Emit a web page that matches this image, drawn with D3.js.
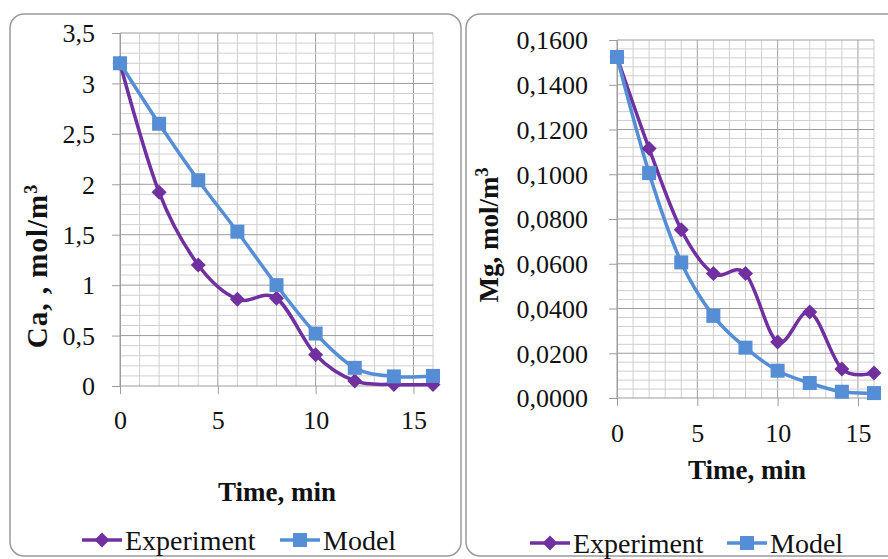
<!DOCTYPE html>
<html><head><meta charset="utf-8">
<script src="https://cdn.jsdelivr.net/npm/d3@7"></script>
<style>
body{margin:0;background:#fff;}
svg{display:block;}
</style></head>
<body><svg id="c" width="888" height="559"></svg>
<script>
const time = [0, 2, 4, 6, 8, 10, 12, 14, 16];
const caExperiment = [3.2, 1.92, 1.2, 0.86, 0.87, 0.31, 0.05, 0.015, 0.015];
const caModel = [3.2, 2.6, 2.04, 1.53, 1.0, 0.52, 0.18, 0.095, 0.1];
const mgExperiment = [0.1524, 0.1115, 0.0752, 0.0556, 0.0556, 0.025, 0.0384, 0.013, 0.0112];
const mgModel = [0.1524, 0.1005, 0.0606, 0.0367, 0.0225, 0.0122, 0.0067, 0.0028, 0.0022];
const xTicks = [0, 5, 10, 15];
const caTicks = [0, 0.5, 1, 1.5, 2, 2.5, 3, 3.5];
const mgTicks = [0, 0.02, 0.04, 0.06, 0.08, 0.1, 0.12, 0.14, 0.16];
const seriesNames = ["Experiment", "Model"];
const colors = {Experiment: "#7030A0", Model: "#558ED5"};

const FONT = '"Liberation Serif", "Times New Roman", serif';
const svg = d3.select("#c");
const fmtComma = d => String(d).replace(".", ",");

// panels
svg.append("rect").attr("x", 10).attr("y", 14).attr("width", 451).attr("height", 542)
  .attr("rx", 14).attr("fill", "#fff").attr("stroke", "#9a9a9a").attr("stroke-width", 1.5);
svg.append("rect").attr("x", 466).attr("y", 14).attr("width", 440).attr("height", 542)
  .attr("rx", 14).attr("fill", "#fff").attr("stroke", "#9a9a9a").attr("stroke-width", 1.5);

function drawChart(cfg) {
  const g = svg.append("g");
  const x = d3.scaleLinear().domain([0, 16]).range([cfg.x0, cfg.x1]);
  const y = d3.scaleLinear().domain([0, cfg.ymax]).range([cfg.y0, cfg.y1]);

  // grid (minor + major)
  const vGrid = d3.range(0, 17, 1);
  const hGrid = d3.range(0, cfg.ymax + cfg.minor / 2, cfg.minor);
  g.selectAll(".vm").data(vGrid).enter().append("line")
    .attr("x1", d => x(d)).attr("x2", d => x(d)).attr("y1", y(0)).attr("y2", y(cfg.ymax))
    .attr("stroke", d => d % 5 === 0 ? "#9c9c9c" : "#cfcfcf").attr("stroke-width", 1);
  g.selectAll(".hm").data(hGrid).enter().append("line")
    .attr("x1", x(0)).attr("x2", x(16)).attr("y1", d => y(d)).attr("y2", d => y(d))
    .attr("stroke", (d, i) => i % 5 === 0 ? "#9c9c9c" : "#cfcfcf").attr("stroke-width", 1);

  // y axis
  const yAxis = d3.axisLeft(y).tickValues(cfg.yTicks).tickSize(8).tickFormat(cfg.yFmt);
  const ya = g.append("g").attr("transform", `translate(${x(0)},0)`).call(yAxis);
  ya.select(".domain").attr("stroke", "#9c9c9c");
  ya.selectAll(".tick line").attr("stroke", "#9c9c9c");
  ya.selectAll("text").attr("font-size", 26).attr("fill", "#111").style("font-family", FONT)
    .attr("x", cfg.yLabX - x(0)).attr("dy", "0.34em");

  // x axis
  const xAxis = d3.axisBottom(x).tickValues(xTicks).tickSize(8).tickFormat(d => d);
  const xa = g.append("g").attr("transform", `translate(0,${y(0)})`).call(xAxis);
  xa.select(".domain").remove();
  xa.selectAll(".tick line").attr("stroke", "#9c9c9c");
  xa.selectAll("text").attr("font-size", 26).attr("fill", "#111").style("font-family", FONT)
    .attr("y", cfg.xLabY - y(0)).attr("dy", "0.34em");

  // axis titles
  g.append("text").attr("x", cfg.xTitleX).attr("y", cfg.xTitleY).attr("text-anchor", "middle")
    .style("font-family", FONT)
    .attr("font-size", 27).attr("font-weight", "bold").attr("fill", "#111").text("Time, min");
  const yt = g.append("text").attr("transform", `translate(${cfg.yTitleX},${cfg.yTitleY}) rotate(-90)`)
    .style("font-family", FONT).style("letter-spacing", cfg.yTitleLs + "px")
    .attr("text-anchor", "middle").attr("font-size", cfg.yTitleSize).attr("font-weight", "bold").attr("fill", "#111");
  yt.append("tspan").text(cfg.yTitle);
  yt.append("tspan").attr("font-size", 18).attr("dy", -10).text("3");

  // lines
  const line = d3.line().x(d => x(d[0])).y(d => y(d[1])).curve(d3.curveCardinal.tension(0));
  const series = [
    {name: "Experiment", values: cfg.exp},
    {name: "Model", values: cfg.mod}
  ];
  series.forEach(s => {
    const pts = time.map((t, i) => [t, s.values[i]]);
    g.append("path").attr("d", line(pts)).attr("fill", "none")
      .attr("stroke", colors[s.name]).attr("stroke-width", 3.5);
  });
  series.forEach(s => {
    const pts = time.map((t, i) => [t, s.values[i]]);
    if (s.name === "Experiment") {
      g.selectAll(null).data(pts).enter().append("path")
        .attr("d", "M0,-7.5L7.5,0L0,7.5L-7.5,0Z").attr("fill", colors[s.name])
        .attr("transform", d => `translate(${x(d[0])},${y(d[1])})`);
    } else {
      g.selectAll(null).data(pts).enter().append("rect")
        .attr("x", d => x(d[0]) - 7).attr("y", d => y(d[1]) - 7).attr("width", 14).attr("height", 14)
        .attr("fill", colors[s.name]);
    }
  });

  // legend
  const lg = g.append("g");
  cfg.legend.forEach((lx, i) => {
    const name = seriesNames[i];
    lg.append("line").attr("x1", lx).attr("x2", lx + 40).attr("y1", cfg.legY).attr("y2", cfg.legY)
      .attr("stroke", colors[name]).attr("stroke-width", 3.5);
    if (name === "Experiment") {
      lg.append("path").attr("d", "M0,-7.5L7.5,0L0,7.5L-7.5,0Z").attr("fill", colors[name])
        .attr("transform", `translate(${lx + 20},${cfg.legY})`);
    } else {
      lg.append("rect").attr("x", lx + 13).attr("y", cfg.legY - 7).attr("width", 14).attr("height", 14)
        .attr("fill", colors[name]);
    }
    lg.append("text").attr("x", lx + 43).attr("y", cfg.legY).attr("dy", "0.34em")
      .style("font-family", FONT)
      .attr("font-size", 28).attr("fill", "#111").text(name);
  });
}

drawChart({
  x0: 120, x1: 433, y0: 386, y1: 33, ymax: 3.5, minor: 0.1,
  yTicks: caTicks, yFmt: fmtComma, yLabX: 95, xLabY: 420,
  xTitleX: 277, xTitleY: 501, yTitleX: 47, yTitleY: 266, yTitle: "Ca, , mol/m",
  yTitleSize: 29, yTitleLs: 1,
  exp: caExperiment, mod: caModel, legend: [82, 280], legY: 540
});
drawChart({
  x0: 617, x1: 874, y0: 398, y1: 40, ymax: 0.16, minor: 0.004,
  yTicks: mgTicks, yFmt: d => d3.format(".4f")(d).replace(".", ","), yLabX: 588, xLabY: 433,
  xTitleX: 747, xTitleY: 479, yTitleX: 498, yTitleY: 235, yTitle: "Mg, mol/m",
  yTitleSize: 27, yTitleLs: 0,
  exp: mgExperiment, mod: mgModel, legend: [530, 727], legY: 543
});
</script></body></html>
